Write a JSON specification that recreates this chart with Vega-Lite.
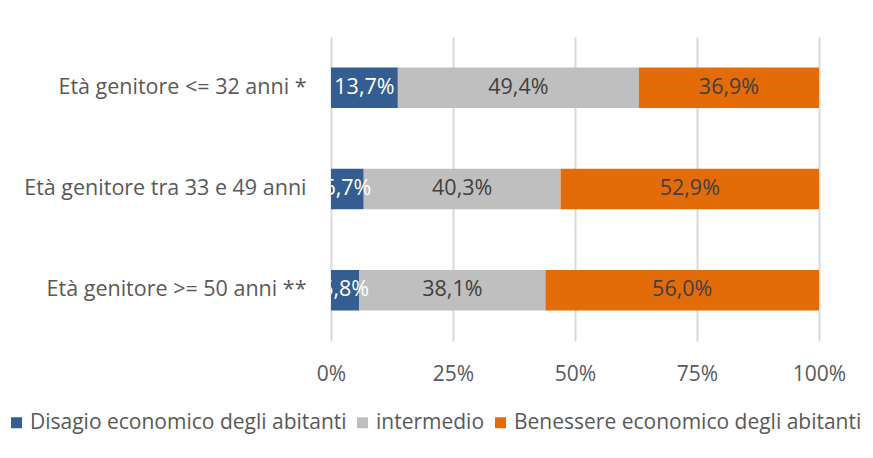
{
  "$schema": "https://vega.github.io/schema/vega-lite/v6.json",
  "width": 488,
  "height": 304,
  "autosize": {"type": "none"},
  "padding": {"left": 331, "top": 37, "right": 54, "bottom": 117},
  "background": "white",
  "config": {"font": "Open Sans", "view": {"stroke": null}},
  "data": {
    "values": [
      {"category": "Età genitore <= 32 anni *", "series": "Disagio economico degli abitanti", "order": 1, "value": 13.7},
      {"category": "Età genitore <= 32 anni *", "series": "intermedio", "order": 2, "value": 49.4},
      {"category": "Età genitore <= 32 anni *", "series": "Benessere economico degli abitanti", "order": 3, "value": 36.9},
      {"category": "Età genitore tra 33 e 49 anni", "series": "Disagio economico degli abitanti", "order": 1, "value": 6.7},
      {"category": "Età genitore tra 33 e 49 anni", "series": "intermedio", "order": 2, "value": 40.3},
      {"category": "Età genitore tra 33 e 49 anni", "series": "Benessere economico degli abitanti", "order": 3, "value": 52.9},
      {"category": "Età genitore >= 50 anni **", "series": "Disagio economico degli abitanti", "order": 1, "value": 5.8},
      {"category": "Età genitore >= 50 anni **", "series": "intermedio", "order": 2, "value": 38.1},
      {"category": "Età genitore >= 50 anni **", "series": "Benessere economico degli abitanti", "order": 3, "value": 56.0}
    ]
  },
  "transform": [
    {"stack": "value", "groupby": ["category"], "sort": [{"field": "order", "order": "ascending"}], "offset": "normalize", "as": ["x0", "x1"]},
    {"calculate": "(datum.x0 + datum.x1) / 2", "as": "mid"},
    {"calculate": "replace(format(datum.value, '.1f'), '.', ',') + '%'", "as": "label"}
  ],
  "encoding": {
    "y": {
      "field": "category",
      "type": "nominal",
      "sort": ["Età genitore <= 32 anni *", "Età genitore tra 33 e 49 anni", "Età genitore >= 50 anni **"],
      "scale": {"paddingInner": 0.6, "paddingOuter": 0.3},
      "axis": {"title": null, "domain": false, "ticks": false, "labelFontSize": 21.5, "labelColor": "#595959", "labelPadding": 25, "labelLimit": 400}
    }
  },
  "layer": [
    {
      "mark": {"type": "bar"},
      "encoding": {
        "x": {
          "field": "x0",
          "type": "quantitative",
          "scale": {"domain": [0, 1]},
          "axis": {"title": null, "format": ".0%", "values": [0, 0.25, 0.5, 0.75, 1], "grid": true, "gridColor": "#D9D9D9", "gridWidth": 2, "domain": false, "ticks": false, "labelFlush": false, "labelFontSize": 21, "labelColor": "#595959", "labelPadding": 22}
        },
        "x2": {"field": "x1"},
        "color": {
          "field": "series",
          "type": "nominal",
          "scale": {
            "domain": ["Disagio economico degli abitanti", "intermedio", "Benessere economico degli abitanti"],
            "range": ["#345E91", "#BFBFBF", "#E36C09"]
          },
          "legend": {
            "title": null,
            "orient": "none",
            "legendX": -325,
            "legendY": 375,
            "direction": "horizontal",
            "symbolType": "square",
            "symbolSize": 121,
            "symbolStrokeWidth": 0,
            "labelFontSize": 21,
            "labelColor": "#595959",
            "labelOffset": 3,
            "columnPadding": 5,
            "labelLimit": 500
          }
        }
      }
    },
    {
      "mark": {"type": "text", "clip": true, "fontSize": 21.5},
      "encoding": {
        "x": {"field": "mid", "type": "quantitative"},
        "text": {"field": "label"},
        "color": {
          "condition": {"test": "datum.series === 'Disagio economico degli abitanti'", "value": "#FFFFFF"},
          "value": "#404040"
        }
      }
    }
  ]
}
